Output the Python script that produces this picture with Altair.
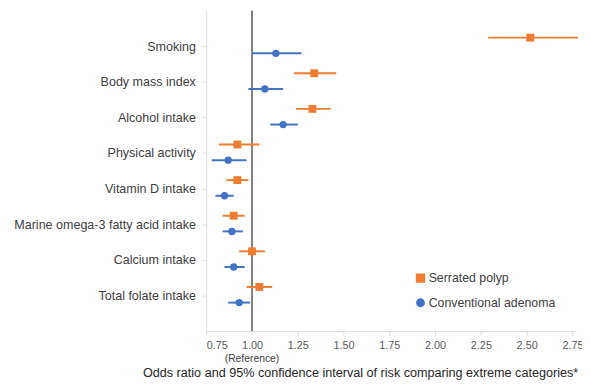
import altair as alt
import pandas as pd

categories = ["Smoking", "Body mass index", "Alcohol intake", "Physical activity",
              "Vitamin D intake", "Marine omega-3 fatty acid intake",
              "Calcium intake", "Total folate intake"]
series = ["Serrated polyp", "Conventional adenoma"]

serrated_or = [2.52, 1.34, 1.33, 0.92, 0.92, 0.90, 1.00, 1.04]
serrated_lo = [2.29, 1.23, 1.24, 0.82, 0.86, 0.84, 0.93, 0.97]
serrated_hi = [2.78, 1.46, 1.43, 1.04, 0.98, 0.96, 1.07, 1.11]

adenoma_or = [1.13, 1.07, 1.17, 0.87, 0.85, 0.89, 0.90, 0.93]
adenoma_lo = [1.00, 0.98, 1.10, 0.78, 0.80, 0.84, 0.85, 0.87]
adenoma_hi = [1.27, 1.17, 1.25, 0.97, 0.90, 0.95, 0.96, 0.99]

x_ticks = [0.75, 1.00, 1.25, 1.50, 1.75, 2.00, 2.25, 2.50, 2.75]

n = len(categories)
offsets = {"Serrated polyp": 0.24, "Conventional adenoma": -0.2}
rows = []
for i, c in enumerate(categories):
    base = n - i
    for s, o, lo, hi in [("Serrated polyp", serrated_or[i], serrated_lo[i], serrated_hi[i]),
                         ("Conventional adenoma", adenoma_or[i], adenoma_lo[i], adenoma_hi[i])]:
        rows.append({"category": c, "series": s, "or": o, "lo": lo, "hi": hi,
                     "pos": base + offsets[s]})
df = pd.DataFrame(rows)

label_map = {str(n - i): c for i, c in enumerate(categories)}
label_expr = "{" + ",".join(f"'{k}':'{v}'" for k, v in label_map.items()) + "}[datum.value] || ''"

colors = ["#ED7D31", "#4472C4"]
xscale = alt.Scale(domain=[0.75, 2.77], nice=False, zero=False)
yscale = alt.Scale(domain=[0, 9], nice=False, zero=False)

legend = alt.Legend(title=None, orient="none", legendX=211, legendY=265,
                    labelFontSize=12.5, labelColor="#404040",
                    labelFont="Liberation Sans",
                    symbolSize=50, rowPadding=10, padding=0, labelOffset=2)
color_enc = alt.Color("series:N", scale=alt.Scale(domain=series, range=colors), legend=legend)
shape_enc = alt.Shape("series:N", scale=alt.Scale(domain=series, range=["square", "circle"]),
                      legend=legend)

base = alt.Chart(df)

yaxis = alt.Axis(values=list(range(1, n + 1)), labelExpr=label_expr, title=None,
                 grid=False, domainColor="#D9D9D9", tickColor="#D9D9D9", tickSize=4,
                 labelFontSize=12.7, labelColor="#404040", labelPadding=7,
                 labelLimit=0, labelFont="Liberation Sans")
xaxis = alt.Axis(values=x_ticks, format=".2f", title=None, grid=False,
                 domainColor="#D9D9D9", tickColor="#D9D9D9", tickSize=4,
                 labelFontSize=11, labelColor="#595959", labelPadding=5,
                 labelFont="Liberation Sans")

bars = base.mark_rule(strokeWidth=2).encode(
    x=alt.X("lo:Q", scale=xscale, axis=xaxis),
    x2="hi:Q",
    y=alt.Y("pos:Q", scale=yscale, axis=yaxis),
    color=color_enc,
)

points = base.mark_point(filled=True, opacity=1).encode(
    x=alt.X("or:Q", scale=xscale),
    y=alt.Y("pos:Q", scale=yscale),
    color=color_enc,
    shape=shape_enc,
    size=alt.Size("series:N", scale=alt.Scale(domain=series, range=[64, 55]), legend=None),
)

ref_df = pd.DataFrame({"x": [1.0]})
ref = alt.Chart(ref_df).mark_rule(color="#808080", strokeWidth=2).encode(
    x=alt.X("x:Q", scale=xscale)
)
ref_label = alt.Chart(ref_df).mark_text(text="(Reference)", fontSize=10.5, color="#404040",
                                        font="Liberation Sans", baseline="middle").encode(
    x=alt.X("x:Q", scale=xscale), y=alt.value(353)
)

chart = alt.layer(ref, bars, points, ref_label).properties(
    width=375, height=325,
    autosize=alt.AutoSizeParams(type="none"),
    padding={"left": 201, "top": 0, "right": 6, "bottom": 49},
    title=alt.TitleParams(
        "Odds ratio and 95% confidence interval of risk comparing extreme categories*",
        orient="bottom", anchor="middle", fontSize=12.8, fontWeight="normal",
        color="#262626", font="Liberation Sans", dx=-31, offset=3),
).configure_view(stroke=None)

chart.save("out.html", embed_options={"renderer": "svg", "actions": False})
